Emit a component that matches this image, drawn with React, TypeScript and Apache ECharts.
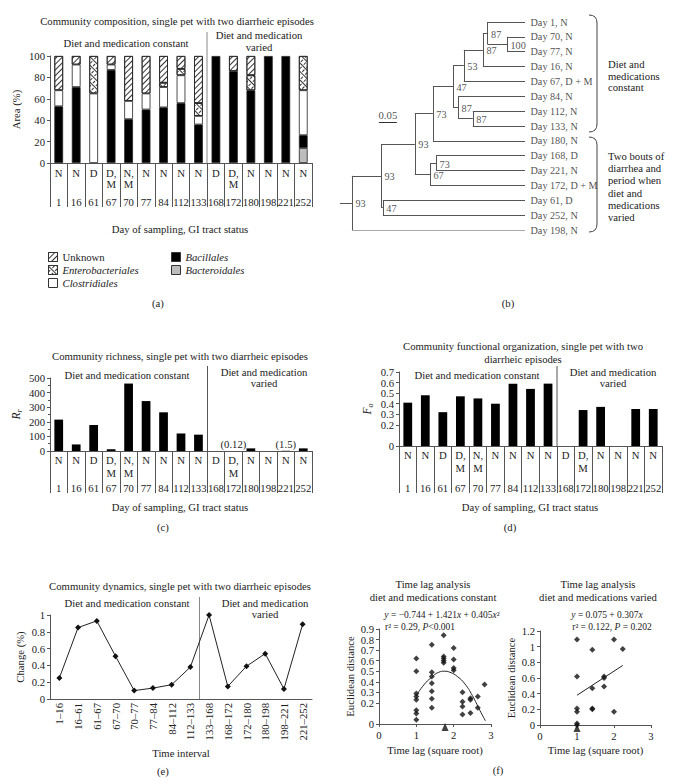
import React, { useEffect, useRef } from 'react';
import * as echarts from 'echarts';

const FONT = '"Liberation Serif", "Times New Roman", "DejaVu Serif", serif';

// ---------- data ----------
const days = ['1', '16', '61', '67', '70', '77', '84', '112', '133', '168', '172', '180', '198', '221', '252'];
const statuses = ['N', 'N', 'D', 'D,\nM', 'N,\nM', 'N', 'N', 'N', 'N', 'D', 'D,\nM', 'N', 'N', 'N', 'N'];

// (a) community composition, % area
const bacteroidalesPct = [0, 0, 0, 0, 0, 0, 0, 0, 0, 0, 0, 0, 0, 0, 14];
const bacillalesPct = [53, 71, 0, 87, 41, 50, 52, 56, 36, 100, 86, 68, 100, 100, 12];
const clostridialesPct = [15, 21, 65, 5, 17, 15, 19, 26, 8, 0, 0, 0, 0, 0, 42];
const enterobacterialesPct = [0, 0, 35, 0, 0, 0, 4, 6, 12, 0, 0, 14, 0, 0, 32];
const unknownPct = [32, 8, 0, 8, 42, 35, 25, 12, 44, 0, 14, 18, 0, 0, 0];

// (c) richness
const richness = [215, 45, 178, 12, 462, 342, 265, 120, 112, 0, 0.12, 18, 0, 1.5, 18];
// (d) functional organization
const functionalOrg = [0.41, 0.48, 0.32, 0.47, 0.45, 0.4, 0.59, 0.54, 0.59, 0, 0.34, 0.37, 0, 0.35, 0.35];
// (e) dynamics
const intervals = ['1–16', '16–61', '61–67', '67–70', '70–77', '77–84', '84–112', '112–133', '133–168', '168–172', '172–180', '180–198', '198–221', '221–252'];
const changePct = [0.25, 0.85, 0.93, 0.51, 0.1, 0.13, 0.17, 0.38, 1.0, 0.15, 0.39, 0.54, 0.12, 0.89];

// (f) time lag analysis
const lagConstant = [
  [1, 0.62], [1, 0.5], [1, 0.29], [1, 0.26], [1, 0.23], [1, 0.13], [1, 0.1], [1, 0.04],
  [1.414, 0.75], [1.414, 0.49], [1.414, 0.45], [1.414, 0.385], [1.414, 0.31], [1.414, 0.24], [1.414, 0.155],
  [1.732, 0.84], [1.732, 0.64], [1.732, 0.62], [1.732, 0.6], [1.732, 0.58],
  [2, 0.72], [2, 0.61], [2, 0.53], [2, 0.51],
  [2.236, 0.3], [2.236, 0.21], [2.236, 0.165], [2.236, 0.09],
  [2.449, 0.245], [2.449, 0.23], [2.449, 0.105],
  [2.646, 0.26], [2.646, 0.155],
  [2.828, 0.375],
];
const fitConstant = [[1, 0.27], [1.2, 0.37], [1.4, 0.44], [1.6, 0.49], [1.75, 0.5], [1.9, 0.49], [2.1, 0.45], [2.3, 0.38], [2.5, 0.27], [2.7, 0.13], [2.85, 0.03]];
const lagVaried = [
  [1, 1.09], [1, 0.62], [1, 0.21], [1, 0.17], [1, 0.02], [1, 0.0],
  [1.414, 0.96], [1.414, 0.47], [1.414, 0.21], [1.414, 0.2],
  [1.732, 0.62], [1.732, 0.6], [1.732, 0.49],
  [2, 1.09], [2, 0.17],
  [2.236, 0.97],
];
const fitVaried = [[1, 0.38], [2.236, 0.76]];
const meanLagConstant = [[1.77, 0]];
const meanLagVaried = [[1, 0]];

// (b) dendrogram
const leafNames = ['Day 1, N', 'Day 70, N', 'Day 77, N', 'Day 16, N', 'Day 67, D + M', 'Day 84, N', 'Day 112, N', 'Day 133, N', 'Day 180, N', 'Day 168, D', 'Day 221, N', 'Day 172, D + M', 'Day 61, D', 'Day 252, N', 'Day 198, N'];
const leafDepth = 0.514;
const nodeIds = ['n1', 'n2', 'n3', 'n4', 'n5', 'n6', 'n7', 'n8', 'n9', 'n10', 'n11', 'n12', 'n13', 'n14'];
const nodeDepths = [0.464, 0.41, 0.397, 0.344, 0.369, 0.328, 0.314, 0.258, 0.267, 0.25, 0.208, 0.119, 0.114, 0.033];
const nodeChildren = [['L1', 'L2'], ['L0', 'n1'], ['n2', 'L3'], ['n3', 'L4'], ['L6', 'L7'], ['L5', 'n5'], ['n4', 'n6'], ['n7', 'L8'], ['L9', 'L10'], ['n9', 'L11'], ['n8', 'n10'], ['L12', 'L13'], ['n11', 'n12'], ['n13', 'L14']];
const nodeSupport = [100, 87, 87, 53, 87, 87, 47, 73, 73, 67, 93, 47, 93, 93];
const scaleBarLength = 0.05;

// ---------- helpers ----------
const TXT = '#222';
const AX = '#555';
const FS = 10.7;

function buildTree() {
  const pos: Record<string, { x: number; y: number }> = {};
  leafNames.forEach((_, i) => (pos['L' + i] = { x: leafDepth, y: i }));
  const segs: number[][][] = [];
  const supports: any[] = [];
  nodeIds.forEach((id, k) => {
    const ch = nodeChildren[k].map((c) => pos[c]);
    const x = nodeDepths[k];
    const ys = ch.map((c) => c.y);
    const y0 = Math.min(...ys);
    const y1 = Math.max(...ys);
    const y = (y0 + y1) / 2;
    pos[id] = { x, y };
    segs.push([[x, y0], [x, y1]]);
    ch.forEach((c) => segs.push([[x, c.y], [c.x, c.y]]));
    supports.push([x, y, nodeSupport[k]]);
  });
  const root = pos[nodeIds[nodeIds.length - 1]];
  segs.push([[0, root.y], [root.x, root.y]]);
  return { segs, supports };
}

const nz = (a: number[]) => a.map((v) => (v === 0 ? null : v));

function text(x: number, y: number, t: string, extra: any = {}) {
  return {
    type: 'text',
    x,
    y,
    silent: true,
    style: {
      text: t,
      fontFamily: FONT,
      fontSize: FS,
      fill: TXT,
      align: 'center',
      textAlign: 'center',
      verticalAlign: 'middle',
      textVerticalAlign: 'middle',
      ...extra,
    },
  };
}
function vline(x: number, y1: number, y2: number, color = '#666') {
  return { type: 'line', silent: true, shape: { x1: x, y1, x2: x, y2 }, style: { stroke: color, lineWidth: 1 } };
}

function catAxes(gridIndex: number, margin: number, lineHeight: number, dayMargin: number, tickLen: number) {
  return [
    {
      type: 'category', gridIndex, data: statuses,
      axisLine: { lineStyle: { color: AX } },
      axisTick: { show: true, length: tickLen, lineStyle: { color: AX } },
      axisLabel: { interval: 0, margin, lineHeight, fontSize: FS, color: TXT, fontFamily: FONT },
    },
    {
      type: 'category', gridIndex, data: days, position: 'bottom',
      axisLine: { show: false }, axisTick: { show: false },
      axisLabel: { interval: 0, margin: dayMargin, fontSize: FS, color: TXT, fontFamily: FONT },
    },
  ];
}
const roundLabel = (v: number) => String(Math.round(v * 1000) / 1000);
// tiny epsilon on the max so the nice top tick is kept; the extra end tick prints the same rounded label
function valY(gridIndex: number, min: number, max: number, interval: number, name: any, nameGap: number, extra: any = {}) {
  return {
    type: 'value', gridIndex, min, max: extra.eps ? max + extra.eps : max, interval,
    name, nameLocation: 'middle', nameGap,
    nameTextStyle: { fontSize: FS, color: TXT, fontFamily: FONT, ...(extra.nameTextStyle || {}) },
    axisLine: { show: true, lineStyle: { color: AX } },
    axisTick: { show: true, length: 3, lineStyle: { color: AX } },
    splitLine: { show: false },
    axisLabel: { fontSize: FS, color: TXT, fontFamily: FONT, margin: 5, showMaxLabel: true, showMinLabel: true, formatter: roundLabel },
    ...(extra.minorTick ? { minorTick: extra.minorTick } : {}),
  };
}

const hatchDecal = { symbol: 'rect', symbolSize: 1, color: '#333', dashArrayX: [1, 0], dashArrayY: [1, 2.5], rotation: -Math.PI / 4 };
const crossDecal = { symbol: 'rect', symbolSize: 1, color: '#333', dashArrayX: [[1, 0], [1, 2.5]], dashArrayY: [1, 0.001, 2.5, 0.001], rotation: Math.PI / 4 };

function buildOption() {
  const tree = buildTree();
  const barBorder = { borderColor: '#222', borderWidth: 0.8 };
  const compSeries = [
    { name: 'Bacteroidales', data: bacteroidalesPct, itemStyle: { color: '#bdbdbd', ...barBorder } },
    { name: 'Bacillales', data: bacillalesPct, itemStyle: { color: '#000', ...barBorder } },
    { name: 'Clostridiales', data: clostridialesPct, itemStyle: { color: '#fff', ...barBorder } },
    { name: 'Enterobacteriales', data: enterobacterialesPct, itemStyle: { color: '#fff', decal: crossDecal, ...barBorder } },
    { name: 'Unknown', data: unknownPct, itemStyle: { color: '#fff', decal: hatchDecal, ...barBorder } },
  ].map((s) => ({ ...s, type: 'bar', stack: 'a', xAxisIndex: 0, yAxisIndex: 0, barWidth: '50%', data: nz(s.data) }));

  const legendBase = {
    orient: 'vertical', icon: 'rect', itemWidth: 9, itemHeight: 9, itemGap: 1, padding: 0, selectedMode: false,
    itemStyle: { borderColor: '#333', borderWidth: 1 },
    textStyle: { fontFamily: FONT, fontSize: FS, color: TXT, lineHeight: 12 },
  };

  const scatterStyle = { symbol: 'diamond', symbolSize: 6, itemStyle: { color: '#111' } };
  const subRich = (a: string) => ({
    rich: {
      a: { fontStyle: 'italic', fontSize: 11.5, fontFamily: FONT, color: TXT },
      b: { fontStyle: 'italic', fontSize: 8, fontFamily: FONT, color: TXT, padding: [7, 0, 0, 0] },
    },
  });

  return {
    animation: false,
    textStyle: { fontFamily: FONT },
    legend: [
      { ...legendBase, left: 48, top: 251, data: [{ name: 'Unknown' }, { name: 'Enterobacteriales', textStyle: { fontStyle: 'italic' } }, { name: 'Clostridiales', textStyle: { fontStyle: 'italic' } }] },
      { ...legendBase, left: 171, top: 251, data: [{ name: 'Bacillales', textStyle: { fontStyle: 'italic' } }, { name: 'Bacteroidales', textStyle: { fontStyle: 'italic' } }] },
    ],
    grid: [
      { left: 50, top: 56, width: 262, height: 107 },
      { left: 50, top: 378, width: 262, height: 73 },
      { left: 399, top: 372, width: 263, height: 74 },
      { left: 50, top: 615, width: 262, height: 84 },
      { left: 379, top: 629, width: 112, height: 95 },
      { left: 540, top: 631, width: 111, height: 94 },
      { left: 340, top: 22, width: 185, height: 208 },
    ],
    xAxis: [
      ...catAxes(0, 4, 11, 33.5, 44),
      ...catAxes(1, 2.5, 13, 31.5, 42),
      ...catAxes(2, 2.5, 13, 36.5, 47),
      {
        type: 'category', gridIndex: 3, data: intervals,
        axisLine: { lineStyle: { color: AX } }, axisTick: { show: false },
        axisLabel: { interval: 0, rotate: 90, margin: 4, fontSize: FS, color: TXT, fontFamily: FONT },
        name: 'Time interval', nameLocation: 'middle', nameGap: 48,
        nameTextStyle: { fontSize: FS, color: TXT, fontFamily: FONT },
      },
      {
        type: 'value', gridIndex: 4, min: 0, max: 3, interval: 1,
        axisLine: { lineStyle: { color: AX } }, axisTick: { show: true, length: 3, lineStyle: { color: AX } }, splitLine: { show: false },
        axisLabel: { fontSize: FS, color: TXT, fontFamily: FONT, margin: 5 },
        name: 'Time lag (square root)', nameLocation: 'middle', nameGap: 20,
        nameTextStyle: { fontSize: FS, color: TXT, fontFamily: FONT },
      },
      {
        type: 'value', gridIndex: 5, min: 0, max: 3, interval: 1,
        axisLine: { lineStyle: { color: AX } }, axisTick: { show: true, length: 3, lineStyle: { color: AX } }, splitLine: { show: false },
        axisLabel: { fontSize: FS, color: TXT, fontFamily: FONT, margin: 5 },
        name: 'Time lag (square root)', nameLocation: 'middle', nameGap: 19,
        nameTextStyle: { fontSize: FS, color: TXT, fontFamily: FONT },
      },
      { type: 'value', gridIndex: 6, min: 0, max: leafDepth, show: false },
    ],
    yAxis: [
      valY(0, 0, 100, 20, 'Area (%)', 29),
      valY(1, 0, 500, 100, '{a|R}{b|r}', 27, {
        minorTick: { show: true, splitNumber: 2, length: 2, lineStyle: { color: AX } },
        nameTextStyle: subRich('R'),
      }),
      valY(2, 0, 0.7, 0.1, '{a|F}{b|o}', 25, { eps: 1e-6, nameTextStyle: subRich('F') }),
      valY(3, 0, 1, 0.2, 'Change (%)', 25),
      valY(4, 0, 0.9, 0.1, 'Euclidean distance', 24, { eps: 1e-6 }),
      valY(5, 0, 1.2, 0.2, 'Euclidean distance', 24),
      { type: 'value', gridIndex: 6, min: 0, max: leafNames.length - 1, inverse: true, show: false },
    ],
    series: [
      ...compSeries,
      {
        type: 'bar', xAxisIndex: 2, yAxisIndex: 1, barWidth: '50%', itemStyle: { color: '#000' },
        data: richness.map((v) =>
          v > 0 && v < 5
            ? { value: v, label: { show: true, position: 'top', distance: 1, formatter: `(${v})`, fontSize: FS, color: TXT, fontFamily: FONT } }
            : v === 0 ? null : v),
      },
      { type: 'bar', xAxisIndex: 4, yAxisIndex: 2, barWidth: '50%', itemStyle: { color: '#000' }, data: nz(functionalOrg) },
      {
        type: 'line', xAxisIndex: 6, yAxisIndex: 3, data: changePct,
        symbol: 'diamond', symbolSize: 6, itemStyle: { color: '#111' }, lineStyle: { color: '#222', width: 1 },
      },
      { type: 'scatter', xAxisIndex: 7, yAxisIndex: 4, data: lagConstant, ...scatterStyle },
      { type: 'line', xAxisIndex: 7, yAxisIndex: 4, data: fitConstant, smooth: true, showSymbol: false, symbol: 'none', lineStyle: { color: '#222', width: 1 } },
      { type: 'scatter', xAxisIndex: 7, yAxisIndex: 4, data: meanLagConstant, symbol: 'triangle', symbolSize: [7, 8], symbolOffset: [0, 3], itemStyle: { color: '#111' } },
      { type: 'scatter', xAxisIndex: 8, yAxisIndex: 5, data: lagVaried, ...scatterStyle },
      { type: 'line', xAxisIndex: 8, yAxisIndex: 5, data: fitVaried, showSymbol: false, symbol: 'none', lineStyle: { color: '#222', width: 1 } },
      { type: 'scatter', xAxisIndex: 8, yAxisIndex: 5, data: meanLagVaried, symbol: 'triangle', symbolSize: [7, 8], symbolOffset: [0, 3], itemStyle: { color: '#111' } },
      // dendrogram
      {
        type: 'lines', coordinateSystem: 'cartesian2d', xAxisIndex: 9, yAxisIndex: 6, silent: true,
        lineStyle: { color: '#555', width: 1, opacity: 1 },
        data: tree.segs.map((c) => ({ coords: c })),
      },
      {
        type: 'scatter', xAxisIndex: 9, yAxisIndex: 6, symbolSize: 1, itemStyle: { color: 'rgba(0,0,0,0)' }, silent: true,
        data: leafNames.map((n, i) => [leafDepth, i, n]),
        label: { show: true, position: 'right', distance: 5, formatter: (p: any) => p.data[2], fontSize: 10.2, color: TXT, fontFamily: FONT },
      },
      {
        type: 'scatter', xAxisIndex: 9, yAxisIndex: 6, symbolSize: 1, itemStyle: { color: 'rgba(0,0,0,0)' }, silent: true,
        data: tree.supports,
        label: { show: true, position: 'right', distance: 3, offset: [0, 1], formatter: (p: any) => String(p.data[2]), fontSize: 10.2, color: TXT, fontFamily: FONT },
      },
      {
        type: 'lines', coordinateSystem: 'cartesian2d', xAxisIndex: 9, yAxisIndex: 6, silent: true,
        lineStyle: { color: '#333', width: 1, opacity: 1 },
        data: [{ coords: [[0.108, 6.73], [0.108 + scaleBarLength, 6.73]] }],
      },
      {
        type: 'scatter', xAxisIndex: 9, yAxisIndex: 6, symbolSize: 1, itemStyle: { color: 'rgba(0,0,0,0)' }, silent: true,
        data: [[0.108 + scaleBarLength / 2, 6.73, String(scaleBarLength)]],
        label: { show: true, position: 'top', distance: 1, formatter: (p: any) => p.data[2], fontSize: FS, color: TXT, fontFamily: FONT },
      },
    ],
    graphic: [
      // (a)
      text(177, 21, 'Community composition, single pet with two diarrheic episodes'),
      text(126, 43, 'Diet and medication constant'),
      text(259, 35, 'Diet and medication'),
      text(259, 47, 'varied'),
      vline(207, 32, 163, '#888'),
      text(180, 229, 'Day of sampling, GI tract status'),
      text(158, 303, '(a)'),
      // (b)
      { type: 'bezierCurve', silent: true, shape: { x1: 589, y1: 15, cpx1: 597, cpy1: 15, x2: 597, y2: 23 }, style: { stroke: '#444', lineWidth: 1, fill: 'none' } },
      { type: 'line', silent: true, shape: { x1: 597, y1: 23, x2: 597, y2: 124 }, style: { stroke: '#444', lineWidth: 1 } },
      { type: 'bezierCurve', silent: true, shape: { x1: 597, y1: 124, cpx1: 597, cpy1: 132, x2: 589, y2: 132 }, style: { stroke: '#444', lineWidth: 1, fill: 'none' } },
      { type: 'bezierCurve', silent: true, shape: { x1: 589, y1: 137, cpx1: 597, cpy1: 137, x2: 597, y2: 145 }, style: { stroke: '#444', lineWidth: 1, fill: 'none' } },
      { type: 'line', silent: true, shape: { x1: 597, y1: 145, x2: 597, y2: 224 }, style: { stroke: '#444', lineWidth: 1 } },
      { type: 'bezierCurve', silent: true, shape: { x1: 597, y1: 224, cpx1: 597, cpy1: 232, x2: 589, y2: 232 }, style: { stroke: '#444', lineWidth: 1, fill: 'none' } },
      text(608, 64, 'Diet and', { align: 'left', textAlign: 'left' }),
      text(608, 76, 'medications', { align: 'left', textAlign: 'left' }),
      text(608, 87, 'constant', { align: 'left', textAlign: 'left' }),
      text(608, 156, 'Two bouts of', { align: 'left', textAlign: 'left' }),
      text(608, 168, 'diarrhea and', { align: 'left', textAlign: 'left' }),
      text(608, 180, 'period when', { align: 'left', textAlign: 'left' }),
      text(608, 193, 'diet and', { align: 'left', textAlign: 'left' }),
      text(608, 205, 'medications', { align: 'left', textAlign: 'left' }),
      text(608, 217, 'varied', { align: 'left', textAlign: 'left' }),
      text(508, 303, '(b)'),
      // (c)
      text(180, 356, 'Community richness, single pet with two diarrheic episodes'),
      text(127, 375, 'Diet and medication constant'),
      text(264, 372, 'Diet and medication'),
      text(264, 383, 'varied'),
      vline(207.5, 366, 451, '#555'),
      text(180, 507, 'Day of sampling, GI tract status'),
      text(163, 527, '(c)'),
      // (d)
      text(523, 346, 'Community functional organization, single pet with two'),
      text(523, 359, 'diarrheic episodes'),
      text(477, 375, 'Diet and medication constant'),
      text(613, 372, 'Diet and medication'),
      text(613, 383, 'varied'),
      vline(557, 366, 446, '#555'),
      text(530, 507, 'Day of sampling, GI tract status'),
      text(510, 527, '(d)'),
      // (e)
      text(180, 586, 'Community dynamics, single pet with two diarrheic episodes'),
      text(127, 603, 'Diet and medication constant'),
      text(265, 603, 'Diet and medication'),
      text(265, 614, 'varied'),
      vline(199.5, 597, 699, '#888'),
      text(163, 771, '(e)'),
      // (f)
      text(433, 584, 'Time lag analysis'),
      text(433, 597, 'diet and medications constant'),
      text(598, 584, 'Time lag analysis'),
      text(598, 597, 'diet and medications varied'),
      text(442, 615, '{i|y} = −0.744 + 1.421{i|x} + 0.405{i|x}²', { fontSize: 9.5, rich: { i: { fontStyle: 'italic', fontSize: 9.5, fontFamily: FONT, fill: TXT } } }),
      text(420, 627, 'r² = 0.29, {i|P}<0.001', { fontSize: 9.5, rich: { i: { fontStyle: 'italic', fontSize: 9.5, fontFamily: FONT, fill: TXT } } }),
      text(607, 615, '{i|y} = 0.075 + 0.307{i|x}', { fontSize: 9.5, rich: { i: { fontStyle: 'italic', fontSize: 9.5, fontFamily: FONT, fill: TXT } } }),
      text(612, 627, 'r² = 0.122, {i|P} = 0.202', { fontSize: 9.5, rich: { i: { fontStyle: 'italic', fontSize: 9.5, fontFamily: FONT, fill: TXT } } }),
      text(498, 770, '(f)'),
    ],
  };
}

export default function App() {
  const ref = useRef<HTMLDivElement>(null);
  useEffect(() => {
    const chart = echarts.init(ref.current!, null, { renderer: 'svg' });
    chart.setOption(buildOption() as any);
    return () => chart.dispose();
  }, []);
  return (
    <div
      ref={ref}
      style={{ position: 'absolute', left: 0, top: 0, width: 698, height: 782, background: '#fff' }}
    />
  );
}
